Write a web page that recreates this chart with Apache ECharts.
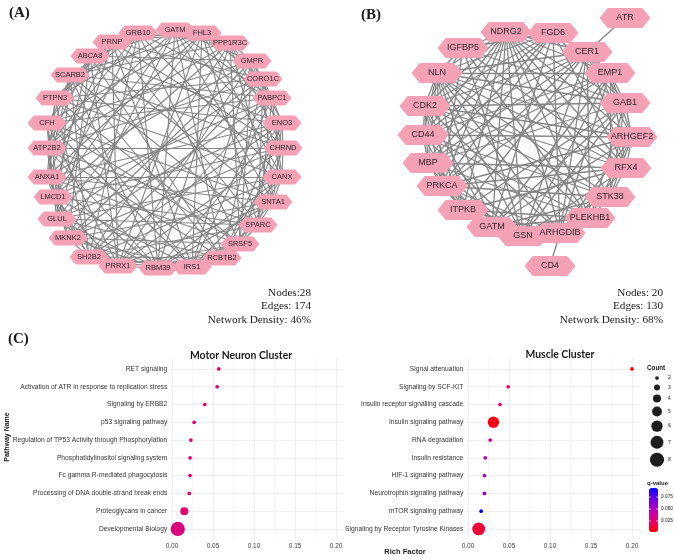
<!DOCTYPE html>
<html><head><meta charset="utf-8">
<script src="https://cdn.jsdelivr.net/npm/echarts@6/dist/echarts.min.js"></script>
<style>html,body{margin:0;padding:0;background:#fff}#c{width:676px;height:559px}</style>
</head><body><div id="c"></div>
<script>
// ---------- Network A (layout positions) ----------
const netANodes = ['GATM','FHL3','PPP1R3C','GMPR','CORO1C','PABPC1','ENO3','CHRND','CANX','SNTA1','SPARC','SRSF5','RCBTB2','IRS1','RBM39','PRRX1','SH2B2','MKNK2','GLUL','LMCD1','ANXA1','ATP2B2','CFH','PTPN3','SCARB2','ABCA8','PRNP','GRB10'];
const netAX = [175,202,230,252,263,272,282,283,282,273,258,240,222,192,158,118,89,68,57,53,47,47,47,55,70,90,112,138];
const netAY = [30,33,43,61,79,98,123,148,177,202,225,244,258,267,268,266,257,238,219,197,177,148,123,98,75,56,42,33];
const netAAdj = [
 [1,3,5,7,9,12,14,17,19,21,23,25],[2,4,6,8,10,13,15,18,20,22,24,26],[3,5,7,9,11,14,16,19,21,24,27],
 [4,6,8,11,13,15,17,20,22,25],[5,7,9,10,12,16,18,21,23,26],[6,8,10,13,15,17,19,22,24,27],
 [7,9,11,12,14,16,18,20,23,25],[8,10,12,15,17,19,21,24,26],[9,11,13,14,16,18,20,23,27],
 [10,12,14,15,17,20,22,25],[11,13,16,18,19,21,24,26],[12,14,15,17,20,22,23,27],
 [13,15,16,18,21,24,25],[14,16,17,19,22,23,26],[15,17,18,20,21,24,27],[16,18,19,22,25,26],
 [17,19,20,23,24,27],[20,21,22,25],[21,22,24,26],[22,23,25,27],[23,24,26],[24,25,27],[25,26],[26,27],[27],[27],[],[]
];
const statsA = ['Nodes:28','Edges: 174','Network Density: 46%'];

// ---------- Network B ----------
const netBNodes = ['ATR','CER1','EMP1','GAB1','ARHGEF2','RFX4','STK38','PLEKHB1','ARHGDIB','CD4','GSN','GATM','ITPKB','PRKCA','MBP','CD44','CDK2','NLN','IGFBP5','NDRG2','FGD6'];
const netBX = [625,587,610,625,632,626,610,590,560,550,523,492,463,442,428,423,425,437,463,506,553];
const netBY = [18,52,73,103,137,168,197,218,233,266,236,227,210,186,163,135,106,73,48,32,33];
const netBAdj = [
 [1],[2,3,4,5,7,8,10,12,13,14,15,16,17,19],[3,4,5,6,8,10,11,13,14,15,17,19],
 [4,6,7,10,11,12,14,16,17,18,19,20],[5,6,7,8,11,13,15,16,17,19],[6,8,10,12,13,14,16,17,18,19,20],
 [7,8,10,11,13,15,16,17,19],[8,11,12,14,15,17,18,19],[9,10,12,13,16,17,19,20],[],
 [11,12,13,14,15,17,18,19],[12,14,16,17,19,20],[13,14,15,16,17,19],[14,16,17,18,19,20],
 [15,16,17,19,20],[16,17,19,20],[17,18,19,20],[18,19,20],[19,20],[20],[]
];
const statsB = ['Nodes: 20','Edges: 130','Network Density: 68%'];

// ---------- Enrichment dot plots ----------
const motorPathways = ['RET signaling','Activation of ATR in response to replication stress','Signaling by ERBB2','p53 signaling pathway','Regulation of TP53 Activity through Phosphorylation','Phosphatidylinositol signaling system','Fc gamma R-mediated phagocytosis','Processing of DNA double-strand break ends','Proteoglycans in cancer','Developmental Biology'];
const motorRich  = [0.057,0.055,0.040,0.027,0.023,0.022,0.022,0.021,0.015,0.007];
const motorCount = [2,2,2,2,2,2,2,2,4,8];
const motorQ     = [0.024,0.024,0.024,0.025,0.025,0.025,0.025,0.025,0.025,0.029];

const musclePathways = ['Signal attenuation','Signaling by SCF-KIT','Insulin receptor signalling cascade','Insulin signaling pathway','RNA degradation','Insulin resistance','HIF-1 signaling pathway','Neurotrophin signaling pathway','mTOR signaling pathway','Signaling by Receptor Tyrosine Kinases'];
const muscleRich  = [0.200,0.049,0.039,0.031,0.027,0.021,0.020,0.020,0.016,0.013];
const muscleCount = [2,2,2,6,2,2,2,2,2,7];
const muscleQ     = [0.003,0.020,0.024,0.006,0.030,0.048,0.052,0.056,0.094,0.012];

const xLabelTicks = [0,0.05,0.10,0.15,0.20];
const xGridTicks = [0,0.025,0.05,0.075,0.10,0.125,0.15,0.175,0.20];
const countLegend = [2,3,4,5,6,7,8];
const qTicks = [0.025,0.050,0.075];
const qMin = 0.002, qMax = 0.094;

// ---------- helpers ----------
const SANS = '"Liberation Sans", Arial, sans-serif';
const SERIF = '"Liberation Serif", "Times New Roman", serif';
function sizeOf(c){ // ggplot area scale, range 2..8
  const s = 1 + 5*(Math.sqrt(c)-Math.sqrt(2))/(Math.sqrt(8)-Math.sqrt(2));
  return 2.1*s + 1.6;
}
const hex = 'path://M0,5 L3.2,0 L16.8,0 L20,5 L16.8,10 L3.2,10 Z';
function links(adj){ const L=[]; adj.forEach((a,i)=>a.forEach(j=>L.push({source:i,target:j}))); return L; }
function graphSeries(names,xs,ys,adj,size,font,lw){
  return {type:'graph', coordinateSystem:'cartesian2d', xAxisIndex:0, yAxisIndex:0, layout:'none',
    data: names.map((n,i)=>({name:n, value:[xs[i],ys[i]]})), links: links(adj),
    symbol: hex, symbolSize: size, itemStyle:{color:'#F4A0B5', opacity:1},
    label:{show:true, position:'inside', fontSize:font, color:'#2a2a2a', fontFamily:SANS},
    lineStyle:{color:'#858585', width:lw, opacity:1, curveness:0},
    emphasis:{disabled:true}, silent:true, animation:false};
}
function dotGrid(idx, cats){
  return {
    x:{gridIndex:idx, type:'value', min:-0.0027, max:0.2097,
      axisLine:{show:false}, axisTick:{show:false, customValues:xGridTicks},
      axisLabel:{customValues:xLabelTicks, formatter:v=>v.toFixed(2), fontSize:6.5, color:'#444', margin:3, fontFamily:SANS},
      splitLine:{show:true, lineStyle:{color:['#e8e8e8','#f3f3f3'], width:0.7}}},
    y:{gridIndex:idx, type:'value', min:0.4, max:10.6, inverse:true,
      axisLine:{show:false}, axisTick:{show:false, customValues:[1,2,3,4,5,6,7,8,9,10]},
      axisLabel:{customValues:[1,2,3,4,5,6,7,8,9,10], formatter:v=>cats[Math.round(v)-1], fontSize:6.7, color:'#333', margin:2.5, fontFamily:SANS},
      splitLine:{show:true, lineStyle:{color:'#e8e8e8', width:0.7}}}
  };
}
function dotSeries(idx, rich, count, q){
  return {type:'scatter', xAxisIndex:idx, yAxisIndex:idx, clip:false, animation:false, silent:true,
    data: rich.map((r,i)=>[r, i+1, count[i], q[i]]), symbolSize: v=>sizeOf(v[2]),
    itemStyle:{opacity:1}};
}
const gL = dotGrid(1, motorPathways), gR = dotGrid(2, musclePathways);

// ---------- annotations ----------
const g = [];
function txt(x,y,t,font,opts){ g.push(Object.assign({type:'text', x:x, y:y, silent:true,
  style:Object.assign({text:t, font:font, fill:'#1a1a1a', align:'left', verticalAlign:'middle', textAlign:'left', textVerticalAlign:'middle'}, (opts&&opts.style)||{})}, (opts&&opts.el)||{})); }
txt(9,13,'(A)','bold 15px '+SERIF);
txt(361,15,'(B)','bold 15px '+SERIF);
txt(8,339,'(C)','bold 15px '+SERIF);
statsA.forEach((t,i)=>txt(311,293+i*13.5,t,'11.2px '+SERIF,{style:{align:'right',textAlign:'right'}}));
statsB.forEach((t,i)=>txt(663,293+i*13.5,t,'11.2px '+SERIF,{style:{align:'right',textAlign:'right'}}));
txt(241,356,'Motor Neuron Cluster','bold 10.4px Lato, '+SANS,{style:{align:'center',textAlign:'center'}});
txt(560,355,'Muscle Cluster','bold 10.4px Lato, '+SANS,{style:{align:'center',textAlign:'center'}});
txt(7,437,'Pathway Name','bold 7px '+SANS,{el:{rotation:Math.PI/2},style:{align:'center',textAlign:'center'}});
txt(405,552,'Rich Factor','bold 7.5px '+SANS,{style:{align:'center',textAlign:'center'}});
txt(647,368,'Count','bold 6.3px '+SANS);
// count legend keys
let cy = 378, prevH = null;
countLegend.forEach((c)=>{
  const d = sizeOf(c), h = Math.max(9, d+4);
  if(prevH!==null) cy += (prevH+h)/2;
  g.push({type:'circle', silent:true, shape:{cx:657, cy:cy, r:d/2}, style:{fill:'#1e1e1e'}});
  txt(668,cy,String(c),'5px '+SANS);
  prevH = h;
});
txt(647,483,'q-value','bold 6px '+SANS);
const cbTop = 488, cbH = 44;
qTicks.forEach(v=>{
  const yy = cbTop + (qMax-v)/(qMax-qMin)*cbH;
  txt(661,yy,v.toFixed(3),'4.8px '+SANS);
  g.push({type:'line', silent:true, z:100, shape:{x1:649,y1:yy,x2:651,y2:yy}, style:{stroke:'#fff',lineWidth:0.6}});
  g.push({type:'line', silent:true, z:100, shape:{x1:656,y1:yy,x2:658,y2:yy}, style:{stroke:'#fff',lineWidth:0.6}});
});

const chart = echarts.init(document.getElementById('c'), null, {renderer:'canvas'});
chart.setOption({
  animation:false,
  backgroundColor:'#ffffff',
  textStyle:{fontFamily:SANS},
  grid:[
    {left:0, top:0, width:676, height:559, show:false},
    {left:169.8, top:358.3, width:174.2, height:181.3, show:false},
    {left:465.8, top:358.3, width:174.2, height:181.3, show:false}
  ],
  xAxis:[{gridIndex:0, type:'value', min:0, max:676, show:false}, gL.x, gR.x],
  yAxis:[{gridIndex:0, type:'value', min:0, max:559, inverse:true, show:false}, gL.y, gR.y],
  visualMap:[{type:'continuous', seriesIndex:[2,3], dimension:3, min:qMin, max:qMax,
    inRange:{color:['#FF0000','#EA0060','#CB009C','#9800CC','#5A00E6','#0000FF']},
    left:649, top:cbTop, itemWidth:9, itemHeight:cbH, text:['',''], textGap:0, calculable:false, padding:0, hoverLink:false}],
  series:[
    graphSeries(netANodes,netAX,netAY,netAAdj,[39,15],7.5,1.1),
    graphSeries(netBNodes,netBX,netBY,netBAdj,[51,20],9,1.3),
    dotSeries(1, motorRich, motorCount, motorQ),
    dotSeries(2, muscleRich, muscleCount, muscleQ)
  ],
  graphic:g
});
</script></body></html>
